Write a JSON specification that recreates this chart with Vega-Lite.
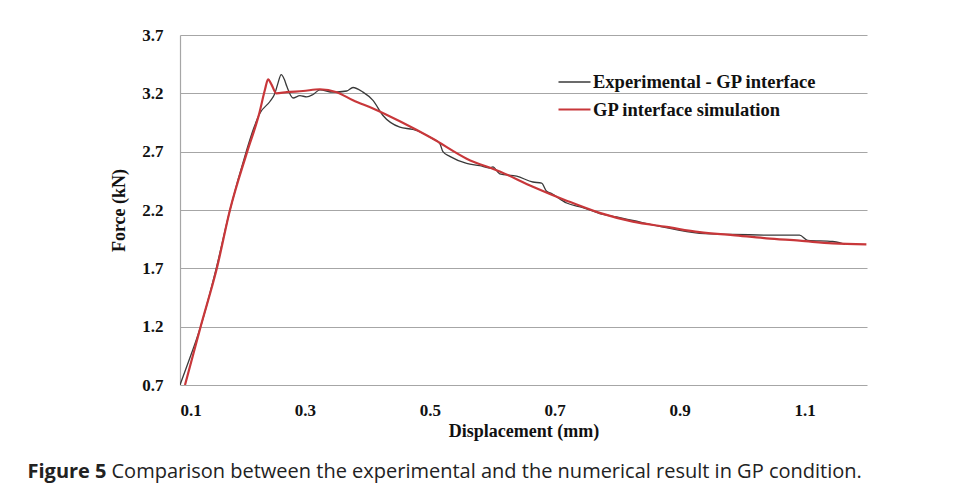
{
  "$schema": "https://vega.github.io/schema/vega-lite/v6.json",
  "width": 687,
  "height": 350,
  "autosize": "none",
  "padding": {"left": 180, "top": 35, "right": 91, "bottom": 102},
  "background": "white",
  "data": {
    "values": [
      {"series": "Experimental - GP interface", "x": 0.100, "y": 0.70},
      {"series": "Experimental - GP interface", "x": 0.113, "y": 0.89},
      {"series": "Experimental - GP interface", "x": 0.133, "y": 1.20},
      {"series": "Experimental - GP interface", "x": 0.158, "y": 1.70},
      {"series": "Experimental - GP interface", "x": 0.180, "y": 2.20},
      {"series": "Experimental - GP interface", "x": 0.206, "y": 2.70},
      {"series": "Experimental - GP interface", "x": 0.218, "y": 2.90},
      {"series": "Experimental - GP interface", "x": 0.228, "y": 3.03},
      {"series": "Experimental - GP interface", "x": 0.244, "y": 3.13},
      {"series": "Experimental - GP interface", "x": 0.252, "y": 3.20},
      {"series": "Experimental - GP interface", "x": 0.257, "y": 3.29},
      {"series": "Experimental - GP interface", "x": 0.262, "y": 3.36},
      {"series": "Experimental - GP interface", "x": 0.267, "y": 3.32},
      {"series": "Experimental - GP interface", "x": 0.271, "y": 3.26},
      {"series": "Experimental - GP interface", "x": 0.281, "y": 3.16},
      {"series": "Experimental - GP interface", "x": 0.292, "y": 3.18},
      {"series": "Experimental - GP interface", "x": 0.303, "y": 3.17},
      {"series": "Experimental - GP interface", "x": 0.313, "y": 3.19},
      {"series": "Experimental - GP interface", "x": 0.324, "y": 3.23},
      {"series": "Experimental - GP interface", "x": 0.345, "y": 3.21},
      {"series": "Experimental - GP interface", "x": 0.367, "y": 3.22},
      {"series": "Experimental - GP interface", "x": 0.377, "y": 3.25},
      {"series": "Experimental - GP interface", "x": 0.393, "y": 3.21},
      {"series": "Experimental - GP interface", "x": 0.409, "y": 3.14},
      {"series": "Experimental - GP interface", "x": 0.425, "y": 3.01},
      {"series": "Experimental - GP interface", "x": 0.452, "y": 2.91},
      {"series": "Experimental - GP interface", "x": 0.473, "y": 2.89},
      {"series": "Experimental - GP interface", "x": 0.505, "y": 2.81},
      {"series": "Experimental - GP interface", "x": 0.516, "y": 2.77},
      {"series": "Experimental - GP interface", "x": 0.521, "y": 2.70},
      {"series": "Experimental - GP interface", "x": 0.532, "y": 2.66},
      {"series": "Experimental - GP interface", "x": 0.559, "y": 2.60},
      {"series": "Experimental - GP interface", "x": 0.580, "y": 2.58},
      {"series": "Experimental - GP interface", "x": 0.596, "y": 2.56},
      {"series": "Experimental - GP interface", "x": 0.601, "y": 2.57},
      {"series": "Experimental - GP interface", "x": 0.612, "y": 2.51},
      {"series": "Experimental - GP interface", "x": 0.639, "y": 2.49},
      {"series": "Experimental - GP interface", "x": 0.665, "y": 2.44},
      {"series": "Experimental - GP interface", "x": 0.679, "y": 2.43},
      {"series": "Experimental - GP interface", "x": 0.687, "y": 2.36},
      {"series": "Experimental - GP interface", "x": 0.695, "y": 2.34},
      {"series": "Experimental - GP interface", "x": 0.719, "y": 2.26},
      {"series": "Experimental - GP interface", "x": 0.745, "y": 2.22},
      {"series": "Experimental - GP interface", "x": 0.772, "y": 2.17},
      {"series": "Experimental - GP interface", "x": 0.799, "y": 2.14},
      {"series": "Experimental - GP interface", "x": 0.825, "y": 2.11},
      {"series": "Experimental - GP interface", "x": 0.868, "y": 2.06},
      {"series": "Experimental - GP interface", "x": 0.932, "y": 2.00},
      {"series": "Experimental - GP interface", "x": 0.985, "y": 1.99},
      {"series": "Experimental - GP interface", "x": 1.049, "y": 1.985},
      {"series": "Experimental - GP interface", "x": 1.092, "y": 1.985},
      {"series": "Experimental - GP interface", "x": 1.105, "y": 1.94},
      {"series": "Experimental - GP interface", "x": 1.145, "y": 1.93},
      {"series": "Experimental - GP interface", "x": 1.156, "y": 1.92},
      {"series": "Experimental - GP interface", "x": 1.165, "y": 1.905},
      {"series": "GP interface simulation", "x": 0.108, "y": 0.70},
      {"series": "GP interface simulation", "x": 0.133, "y": 1.20},
      {"series": "GP interface simulation", "x": 0.159, "y": 1.70},
      {"series": "GP interface simulation", "x": 0.180, "y": 2.20},
      {"series": "GP interface simulation", "x": 0.207, "y": 2.69},
      {"series": "GP interface simulation", "x": 0.227, "y": 3.03},
      {"series": "GP interface simulation", "x": 0.236, "y": 3.23},
      {"series": "GP interface simulation", "x": 0.241, "y": 3.32},
      {"series": "GP interface simulation", "x": 0.247, "y": 3.27},
      {"series": "GP interface simulation", "x": 0.254, "y": 3.20},
      {"series": "GP interface simulation", "x": 0.271, "y": 3.21},
      {"series": "GP interface simulation", "x": 0.297, "y": 3.22},
      {"series": "GP interface simulation", "x": 0.324, "y": 3.235},
      {"series": "GP interface simulation", "x": 0.351, "y": 3.21},
      {"series": "GP interface simulation", "x": 0.377, "y": 3.14},
      {"series": "GP interface simulation", "x": 0.409, "y": 3.07},
      {"series": "GP interface simulation", "x": 0.452, "y": 2.96},
      {"series": "GP interface simulation", "x": 0.505, "y": 2.81},
      {"series": "GP interface simulation", "x": 0.559, "y": 2.64},
      {"series": "GP interface simulation", "x": 0.612, "y": 2.53},
      {"series": "GP interface simulation", "x": 0.665, "y": 2.40},
      {"series": "GP interface simulation", "x": 0.719, "y": 2.28},
      {"series": "GP interface simulation", "x": 0.772, "y": 2.175},
      {"series": "GP interface simulation", "x": 0.825, "y": 2.10},
      {"series": "GP interface simulation", "x": 0.879, "y": 2.055},
      {"series": "GP interface simulation", "x": 0.932, "y": 2.01},
      {"series": "GP interface simulation", "x": 0.985, "y": 1.985},
      {"series": "GP interface simulation", "x": 1.039, "y": 1.957},
      {"series": "GP interface simulation", "x": 1.092, "y": 1.937},
      {"series": "GP interface simulation", "x": 1.145, "y": 1.914},
      {"series": "GP interface simulation", "x": 1.199, "y": 1.905}
    ]
  },
  "layer": [
    {
      "mark": {"type": "line", "interpolate": "monotone", "clip": true},
      "encoding": {
        "x": {
          "field": "x",
          "type": "quantitative",
          "scale": {"domain": [0.1, 1.2], "nice": false, "zero": false},
          "axis": {
            "values": [0.1, 0.3, 0.5, 0.7, 0.9, 1.1],
            "format": ".1f",
            "grid": false,
            "domain": false,
            "ticks": false,
            "labelPadding": 17,
            "labelFont": "Liberation Serif",
            "labelFontSize": 17,
            "labelFontWeight": "bold",
            "labelColor": "#111111",
            "title": "Displacement (mm)",
            "titleFont": "Liberation Serif",
            "titleFontSize": 18,
            "titleFontWeight": "bold",
            "titleColor": "#111111",
            "titlePadding": 4
          }
        },
        "y": {
          "field": "y",
          "type": "quantitative",
          "scale": {"domain": [0.7, 3.7], "nice": false, "zero": false},
          "axis": {
            "values": [0.7, 1.2, 1.7, 2.2, 2.7, 3.2, 3.7],
            "format": ".1f",
            "grid": true,
            "gridColor": "#a6a6a6",
            "gridWidth": 1.2,
            "domain": true,
            "domainColor": "#a6a6a6",
            "domainWidth": 1.2,
            "ticks": false,
            "labelPadding": 17,
            "labelFont": "Liberation Serif",
            "labelFontSize": 17,
            "labelFontWeight": "bold",
            "labelColor": "#111111",
            "title": "Force (kN)",
            "titleFont": "Liberation Serif",
            "titleFontSize": 18,
            "titleFontWeight": "bold",
            "titleColor": "#111111",
            "titlePadding": 13
          }
        },
        "color": {
          "field": "series",
          "type": "nominal",
          "scale": {
            "domain": ["Experimental - GP interface", "GP interface simulation"],
            "range": ["#3a3a3a", "#c8373a"]
          },
          "legend": {
            "title": null,
            "orient": "none",
            "legendX": 377,
            "legendY": 30,
            "padding": 0,
            "symbolType": "stroke",
            "symbolSize": 1024,
            "symbolStrokeWidth": 2,
            "labelFont": "Liberation Serif",
            "labelFontSize": 18.5,
            "labelFontWeight": "bold",
            "labelColor": "#111111",
            "labelOffset": 1,
            "labelLimit": 400,
            "rowPadding": -5
          }
        },
        "strokeWidth": {
          "field": "series",
          "type": "nominal",
          "scale": {
            "domain": ["Experimental - GP interface", "GP interface simulation"],
            "range": [1.3, 2.2]
          },
          "legend": null
        }
      }
    },
    {
      "mark": {"type": "point", "opacity": 0},
      "encoding": {
        "x": {
          "field": "x",
          "type": "quantitative",
          "scale": {"domain": [0.1, 1.2], "nice": false, "zero": false},
          "axis": {
            "orient": "top",
            "labels": false,
            "ticks": false,
            "domain": false,
            "grid": false,
            "title": "Comparison between the experimental and the numerical result in GP condition.",
            "titleFont": "Open Sans",
            "titleFontSize": 20,
            "titleFontWeight": "normal",
            "titleColor": "#222222",
            "titleAlign": "left",
            "titleAnchor": "start",
            "titleBaseline": "alphabetic",
            "titleX": -69,
            "titleY": 442
          }
        },
        "y": {
          "field": "y",
          "type": "quantitative",
          "scale": {"domain": [0.7, 3.7], "nice": false, "zero": false},
          "axis": {
            "orient": "right",
            "labels": false,
            "ticks": false,
            "domain": false,
            "grid": false,
            "title": "Figure 5",
            "titleFont": "Open Sans",
            "titleFontSize": 20,
            "titleFontWeight": "bold",
            "titleColor": "#222222",
            "titleAngle": 0,
            "titleAlign": "left",
            "titleAnchor": "start",
            "titleBaseline": "alphabetic",
            "titleX": -840,
            "titleY": 442
          }
        }
      }
    }
  ],
  "resolve": {
    "scale": {"x": "independent", "y": "independent"},
    "axis": {"x": "independent", "y": "independent"}
  },
  "config": {"view": {"stroke": null}}
}
